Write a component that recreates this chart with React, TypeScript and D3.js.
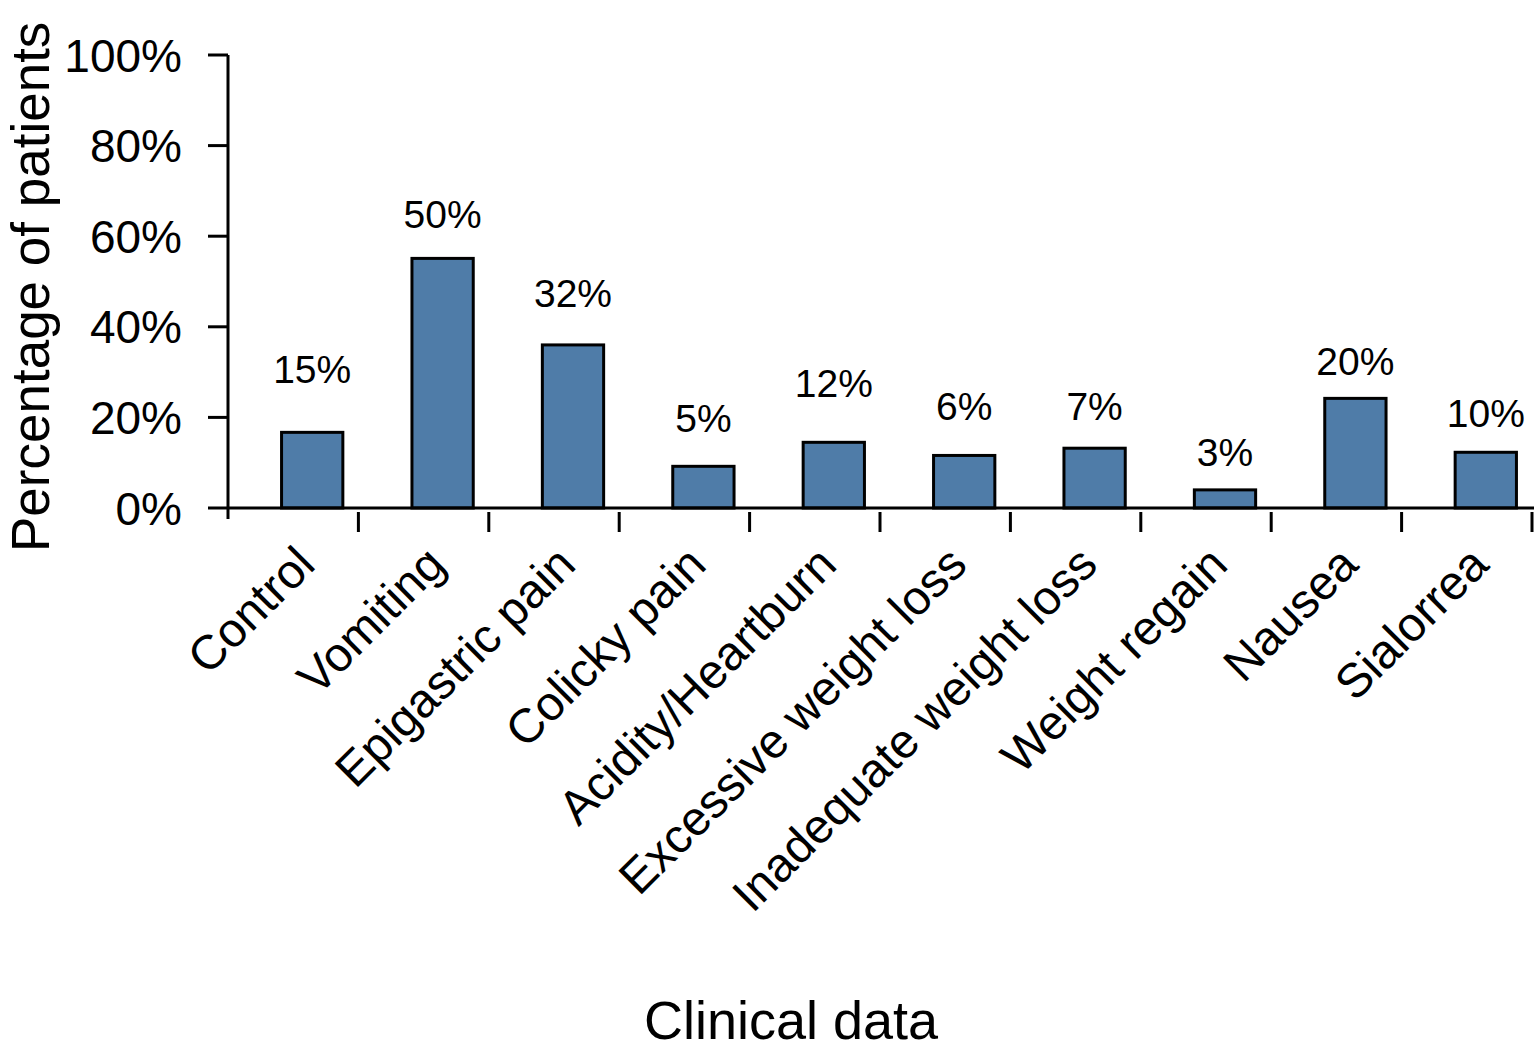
import { useEffect, useRef } from "react";
import { scaleLinear, scaleBand, select } from "d3";

const WIDTH = 1535;
const HEIGHT = 1053;

const CATEGORIES = [
  "Control",
  "Vomiting",
  "Epigastric pain",
  "Colicky pain",
  "Acidity/Heartburn",
  "Excessive weight loss",
  "Inadequate weight loss",
  "Weight regain",
  "Nausea",
  "Sialorrea",
];
// bar heights as drawn (percent of patients)
const BAR_VALUES = [16.7, 55.1, 36.0, 9.2, 14.5, 11.6, 13.2, 4.0, 24.2, 12.3];
// printed labels above the bars
const BAR_LABELS = ["15%", "50%", "32%", "5%", "12%", "6%", "7%", "3%", "20%", "10%"];
// level (in percent) where each printed label sits
const LABEL_LEVELS = [27.6, 61.7, 44.4, 16.8, 24.6, 19.4, 19.4, 9.3, 29.4, 17.9];
const Y_TICKS = [0, 20, 40, 60, 80, 100];

const BAR_FILL = "#4f7ca8";
const FONT = "'Liberation Sans', Arial, Helvetica, sans-serif";

export default function App() {
  const svgRef = useRef<SVGSVGElement>(null);

  useEffect(() => {
    const svg = select(svgRef.current);
    svg.selectAll("*").remove();

    const x0 = 228;
    const x1 = 1532;
    const yScale = scaleLinear().domain([0, 100]).range([508, 55]);
    const xScale = scaleBand().domain(CATEGORIES).range([x0, x1]).padding(0);
    const bw = xScale.bandwidth();
    const barW = bw * 0.47;
    const shift = 19; // bars sit a bit right of band centre

    const g = svg.append("g").attr("font-family", FONT);

    // bars
    CATEGORIES.forEach((c, i) => {
      const cx = (xScale(c) ?? 0) + bw / 2 + shift;
      g.append("rect")
        .attr("x", cx - barW / 2)
        .attr("y", yScale(BAR_VALUES[i]))
        .attr("width", barW)
        .attr("height", yScale(0) - yScale(BAR_VALUES[i]))
        .attr("fill", BAR_FILL)
        .attr("stroke", "#000")
        .attr("stroke-width", 3);

      g.append("text")
        .attr("x", cx)
        .attr("y", yScale(LABEL_LEVELS[i]))
        .attr("text-anchor", "middle")
        .attr("font-size", "39px")
        .attr("fill", "#000")
        .text(BAR_LABELS[i]);

      g.append("text")
        .attr("transform", `translate(${cx + 5},567) rotate(-45)`)
        .attr("text-anchor", "end")
        .attr("font-size", "48px")
        .attr("fill", "#000")
        .text(c);
    });

    // y axis
    g.append("line")
      .attr("x1", x0)
      .attr("x2", x0)
      .attr("y1", yScale(100))
      .attr("y2", yScale(0) + 11)
      .attr("stroke", "#000")
      .attr("stroke-width", 3);

    Y_TICKS.forEach((t) => {
      g.append("line")
        .attr("x1", x0 - 20)
        .attr("x2", t === 0 ? x1 + 2 : x0)
        .attr("y1", yScale(t))
        .attr("y2", yScale(t))
        .attr("stroke", "#000")
        .attr("stroke-width", 3);
      g.append("text")
        .attr("x", 182)
        .attr("y", yScale(t))
        .attr("dy", "0.36em")
        .attr("text-anchor", "end")
        .attr("font-size", "46px")
        .attr("fill", "#000")
        .text(`${t}%`);
    });

    // x ticks at band edges
    CATEGORIES.forEach((c) => {
      const xe = (xScale(c) ?? 0) + bw;
      g.append("line")
        .attr("x1", xe)
        .attr("x2", xe)
        .attr("y1", yScale(0) + 4)
        .attr("y2", yScale(0) + 24)
        .attr("stroke", "#000")
        .attr("stroke-width", 3);
    });

    // axis titles
    g.append("text")
      .attr("transform", "translate(49,552) rotate(-90)")
      .attr("text-anchor", "start")
      .attr("font-size", "53px")
      .attr("fill", "#000")
      .text("Percentage of patients");

    g.append("text")
      .attr("x", 791)
      .attr("y", 1039)
      .attr("text-anchor", "middle")
      .attr("font-size", "54px")
      .attr("fill", "#000")
      .text("Clinical data");
  }, []);

  return (
    <svg
      ref={svgRef}
      width={WIDTH}
      height={HEIGHT}
      style={{ position: "absolute", left: 0, top: 0, background: "#fff" }}
    />
  );
}
